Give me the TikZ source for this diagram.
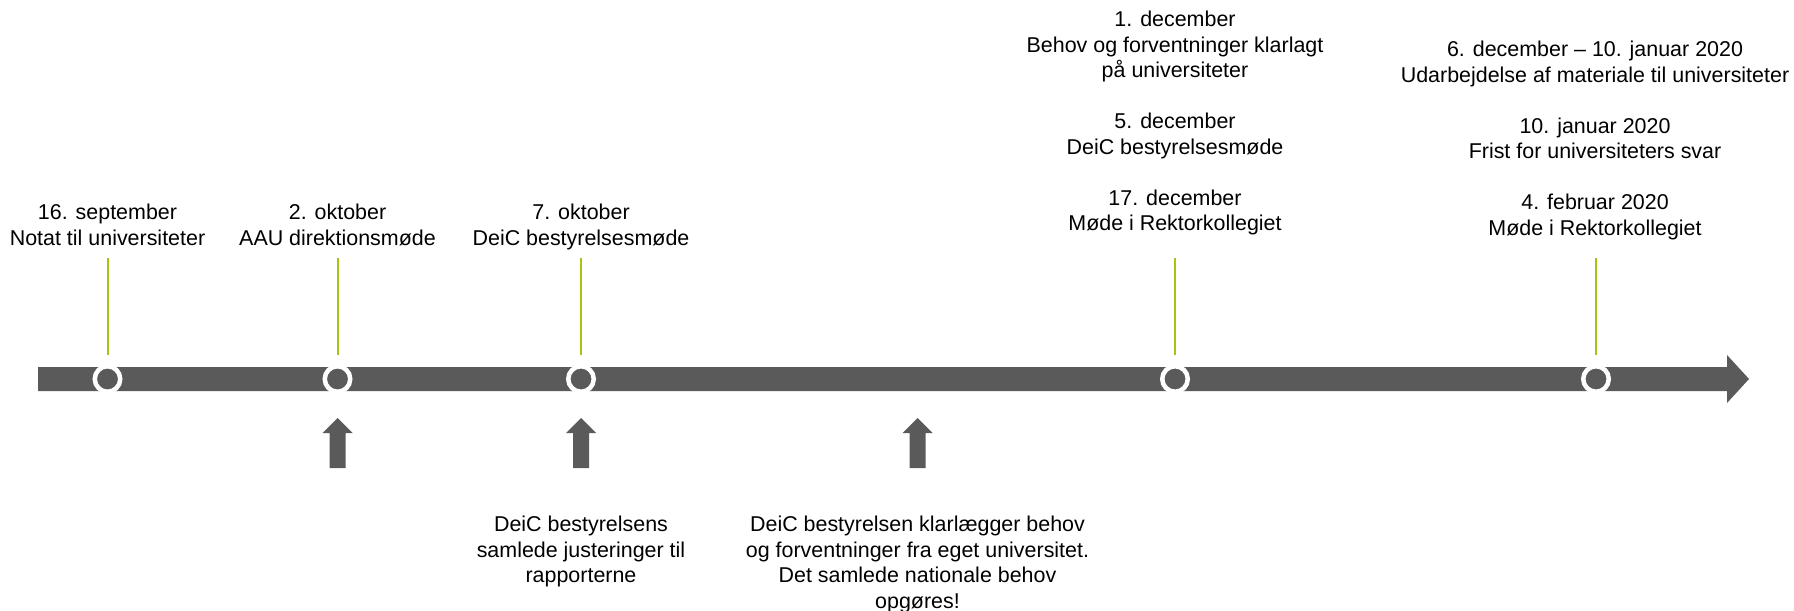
\documentclass[tikz,border=0pt]{standalone}
\usepackage{fontspec}
\setmainfont{Liberation Sans}
\usetikzlibrary{calc}
\definecolor{deicgray}{HTML}{5A5A5A}
\definecolor{deicgreen}{HTML}{A2C617}

\begin{document}
\begin{tikzpicture}[
  x=0.02cm, y=-0.02cm,
  datelabel/.style={align=center,inner sep=0pt,anchor=north,
                    font=\fontsize{12.2}{14.5}\selectfont},
  milestone/.style={circle,fill=deicgray,draw=white,line width=0.09cm,
                    minimum size=0.51cm,inner sep=0pt},
  tick/.style={deicgreen,line width=0.04cm},
  pointer/.style={fill=deicgray}
]
  \useasboundingbox (0,0) rectangle (1794,611);

  % timeline bar
  \fill[deicgray] (38,367) -- (1727,367) -- (1727,355) -- (1749,379)
    -- (1727,403) -- (1727,391) -- (38,391) -- cycle;

  % milestones with green ticks
  \foreach \x [count=\i] in {107.5,337.5,581,1175,1596} {
    \node[milestone] (m\i) at (\x,379) {};
    \draw[tick] (m\i) ++(0,-24) -- ++(0,-97);
  }

  % arrows below the bar
  \foreach \x in {337.5,581,917.5}
    \fill[pointer] (\x,418) -- ++(15,15) -- ++(-7,0) -- ++(0,35)
      -- ++(-16,0) -- ++(0,-35) -- ++(-7,0) -- cycle;

  \node[datelabel] (sep) at (107.5,204) {16. september\\Notat til universiteter};
  \node[datelabel] (okt2) at (337.5,204) {2. oktober\\AAU direktionsmøde};
  \node[datelabel] (okt7) at (581,204) {7. oktober\\DeiC bestyrelsesmøde};
  \node[datelabel] (dec) at (1175,11) {1. december\\Behov og forventninger klarlagt\\på universiteter\\[14.5pt]
    5. december\\DeiC bestyrelsesmøde\\[14.5pt]
    17. december\\Møde i Rektorkollegiet};
  \node[datelabel] (jan) at (1595,41) {6. december – 10. januar 2020\\Udarbejdelse af materiale til universiteter\\[14.5pt]
    10. januar 2020\\Frist for universiteters svar\\[14.5pt]
    4. februar 2020\\Møde i Rektorkollegiet};

  \node[datelabel] (just) at (581,516) {DeiC bestyrelsens\\samlede justeringer til\\rapporterne};
  \node[datelabel] (klar) at (917.5,516) {DeiC bestyrelsen klarlægger behov\\og forventninger fra eget universitet.\\Det samlede nationale behov\\opgøres!};
\end{tikzpicture}
\end{document}
